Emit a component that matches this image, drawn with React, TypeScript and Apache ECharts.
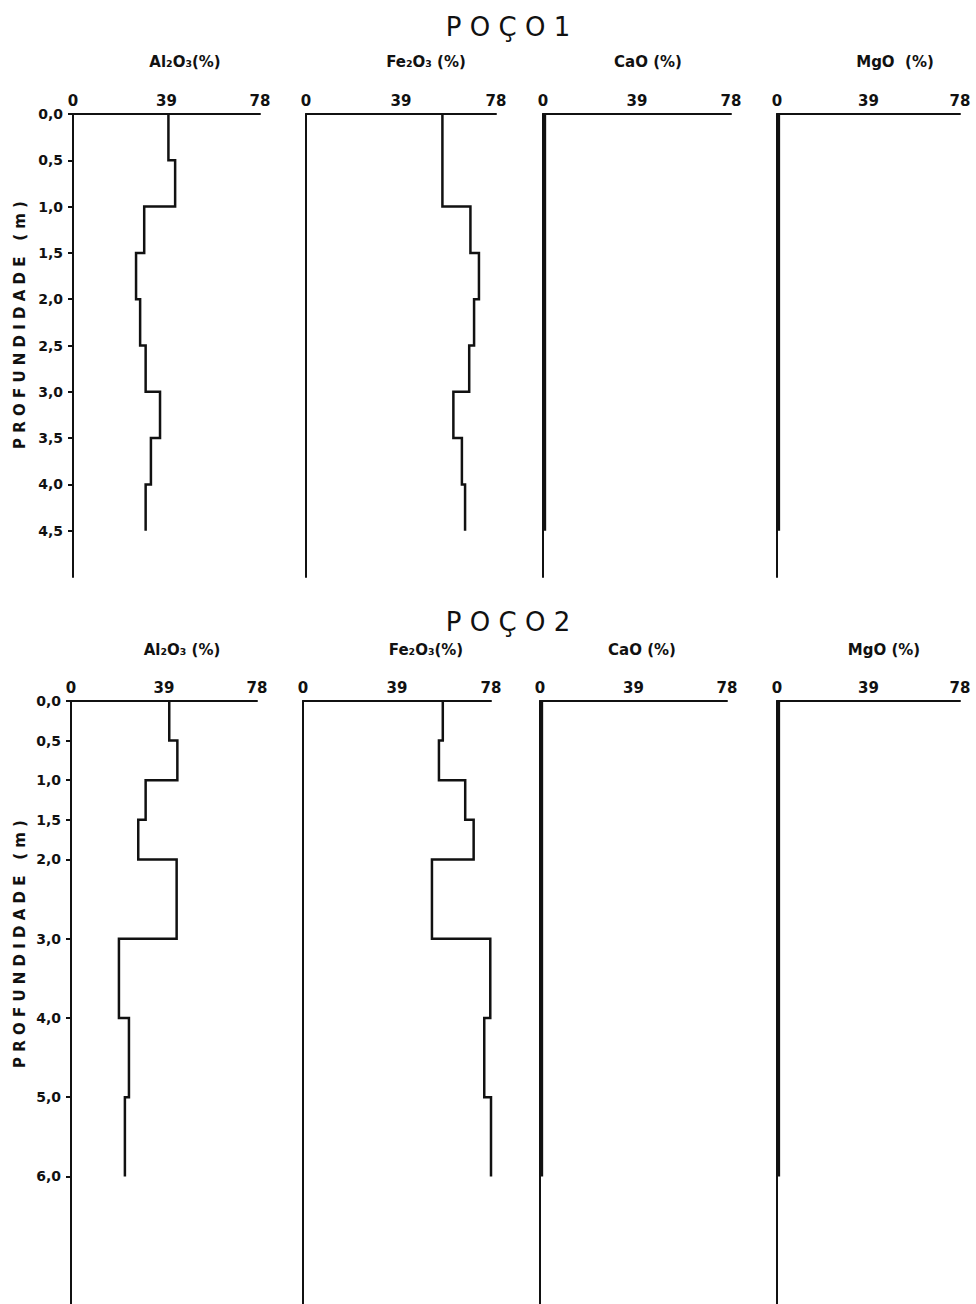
import React, { useEffect, useRef } from "react";
import * as echarts from "echarts";

// ---- data ----
const xTickValues = [0, 39, 78];

// Poço 1 (depth interval boundaries in m, values in % for each interval)
const p1Depths = [0, 0.5, 1.0, 1.5, 2.0, 2.5, 3.0, 3.5, 4.0, 4.5];
const p1Al2O3 = [39.8, 42.6, 29.7, 26.3, 28.0, 30.3, 36.3, 32.5, 30.3];
const p1Fe2O3 = [56.0, 56.0, 67.5, 71.0, 69.0, 67.0, 60.5, 64.0, 65.3];
const p1CaO = [0.8, 0.8, 0.8, 0.8, 0.8, 0.8, 0.8, 0.8, 0.8];
const p1MgO = [0.8, 0.8, 0.8, 0.8, 0.8, 0.8, 0.8, 0.8, 0.8];
const p1DepthTicks = [0, 0.5, 1.0, 1.5, 2.0, 2.5, 3.0, 3.5, 4.0, 4.5];
const p1DepthMax = 5.0;

// Poço 2
const p2Depths = [0, 0.5, 1.0, 1.5, 2.0, 3.0, 4.0, 5.0, 6.0];
const p2Al2O3 = [41.2, 44.6, 31.3, 28.2, 44.3, 20.1, 24.3, 22.6];
const p2Fe2O3 = [58.0, 56.4, 67.3, 70.8, 53.5, 77.7, 75.2, 78.0];
const p2CaO = [0.8, 0.8, 0.8, 0.8, 0.8, 0.8, 0.8, 0.8];
const p2MgO = [0.8, 0.8, 0.8, 0.8, 0.8, 0.8, 0.8, 0.8];
const p2DepthTicks = [0, 0.5, 1.0, 1.5, 2.0, 3.0, 4.0, 5.0, 6.0];
const p2DepthMax = 7.61;

const p1Headers = ["Al₂O₃(%)", "Fe₂O₃ (%)", "CaO (%)", "MgO  (%)"];
const p2Headers = ["Al₂O₃ (%)", "Fe₂O₃(%)", "CaO (%)", "MgO (%)"];
const title1 = "P O Ç O 1";
const title2 = "P O Ç O 2";
const depthName = "P R O F U N D I D A D E   ( m )";

// ---- layout ----
const FONT = "DejaVu Sans";
const INK = "#111";
const p1Lefts = [73, 306, 543, 777];
const p1Widths = [187, 190, 188, 183];
const p1Top = 114;
const p1Height = 463;
const p2Lefts = [71, 303, 540, 777];
const p2Widths = [186, 188, 187, 183];
const p2Top = 701;
const p2Height = 603;
const p1HeaderX = [185, 426, 648, 895];
const p2HeaderX = [182, 426, 642, 884];

function stepData(depths: number[], values: number[]) {
  const out: number[][] = [];
  for (let i = 0; i < values.length; i++) {
    out.push([values[i], depths[i]]);
    out.push([values[i], depths[i + 1]]);
  }
  return out;
}

const fmtDepth = (v: number) => v.toFixed(1).replace(".", ",");

export default function App() {
  const ref = useRef<HTMLDivElement>(null);
  useEffect(() => {
    if (!ref.current) return;
    const chart = echarts.init(ref.current, undefined, { renderer: "svg" });

    const grids: any[] = [];
    const xAxes: any[] = [];
    const yAxes: any[] = [];
    const series: any[] = [];

    const wells = [
      {
        lefts: p1Lefts, widths: p1Widths, top: p1Top, height: p1Height,
        max: p1DepthMax, ticks: p1DepthTicks, depths: p1Depths,
        vals: [p1Al2O3, p1Fe2O3, p1CaO, p1MgO],
      },
      {
        lefts: p2Lefts, widths: p2Widths, top: p2Top, height: p2Height,
        max: p2DepthMax, ticks: p2DepthTicks, depths: p2Depths,
        vals: [p2Al2O3, p2Fe2O3, p2CaO, p2MgO],
      },
    ];

    wells.forEach((w) => {
      for (let c = 0; c < 4; c++) {
        const idx = grids.length;
        grids.push({ left: w.lefts[c], top: w.top, width: w.widths[c], height: w.height, containLabel: false });
        xAxes.push({
          type: "value",
          gridIndex: idx,
          position: "top",
          min: 0,
          max: 78,
          interval: 39,
          axisLine: { show: true, onZero: false, lineStyle: { color: INK, width: 2 } },
          axisTick: { show: false },
          splitLine: { show: false },
          axisLabel: {
            show: true,
            customValues: xTickValues,
            margin: 6,
            color: INK,
            fontFamily: FONT,
            fontWeight: "bold",
            fontSize: 15,
          },
        });
        yAxes.push({
          type: "value",
          gridIndex: idx,
          inverse: true,
          min: 0,
          max: w.max,
          axisLine: { show: true, onZero: false, lineStyle: { color: INK, width: 2 } },
          splitLine: { show: false },
          axisTick: {
            show: c === 0,
            customValues: w.ticks,
            length: 5,
            lineStyle: { color: INK, width: 2 },
          },
          axisLabel: {
            show: c === 0,
            customValues: w.ticks,
            margin: 10,
            formatter: (v: number) => fmtDepth(v),
            color: INK,
            fontFamily: FONT,
            fontWeight: "bold",
            fontSize: 14,
          },
        });
        series.push({
          type: "line",
          xAxisIndex: idx,
          yAxisIndex: idx,
          data: stepData(w.depths, w.vals[c]),
          symbol: "none",
          showSymbol: false,
          clip: false,
          silent: true,
          lineStyle: { color: INK, width: 2.5, join: "miter" },
        });
      }
    });

    const textStyle = (extra: any) => ({
      fill: INK,
      fontFamily: FONT,
      fontWeight: "bold",
      fontSize: 14,
      align: "center",
      verticalAlign: "middle",
      ...extra,
    });

    const graphic: any[] = [
      { type: "text", x: 508, y: 27, style: textStyle({ text: title1, fontWeight: "normal", fontSize: 26 }) },
      { type: "text", x: 508, y: 622, style: textStyle({ text: title2, fontWeight: "normal", fontSize: 26 }) },
      { type: "text", x: 20, y: 325, rotation: Math.PI / 2, style: textStyle({ text: depthName, fontSize: 15 }) },
      { type: "text", x: 20, y: 944, rotation: Math.PI / 2, style: textStyle({ text: depthName, fontSize: 15 }) },
    ];
    p1Headers.forEach((h, i) =>
      graphic.push({ type: "text", x: p1HeaderX[i], y: 62, style: textStyle({ text: h, fontSize: 15 }) })
    );
    p2Headers.forEach((h, i) =>
      graphic.push({ type: "text", x: p2HeaderX[i], y: 650, style: textStyle({ text: h, fontSize: 15 }) })
    );

    chart.setOption({
      animation: false,
      backgroundColor: "#ffffff",
      grid: grids,
      xAxis: xAxes,
      yAxis: yAxes,
      series,
      graphic,
    });

    return () => chart.dispose();
  }, []);

  return (
    <div
      ref={ref}
      style={{ position: "absolute", left: 0, top: 0, width: 976, height: 1304, background: "#fff" }}
    />
  );
}
